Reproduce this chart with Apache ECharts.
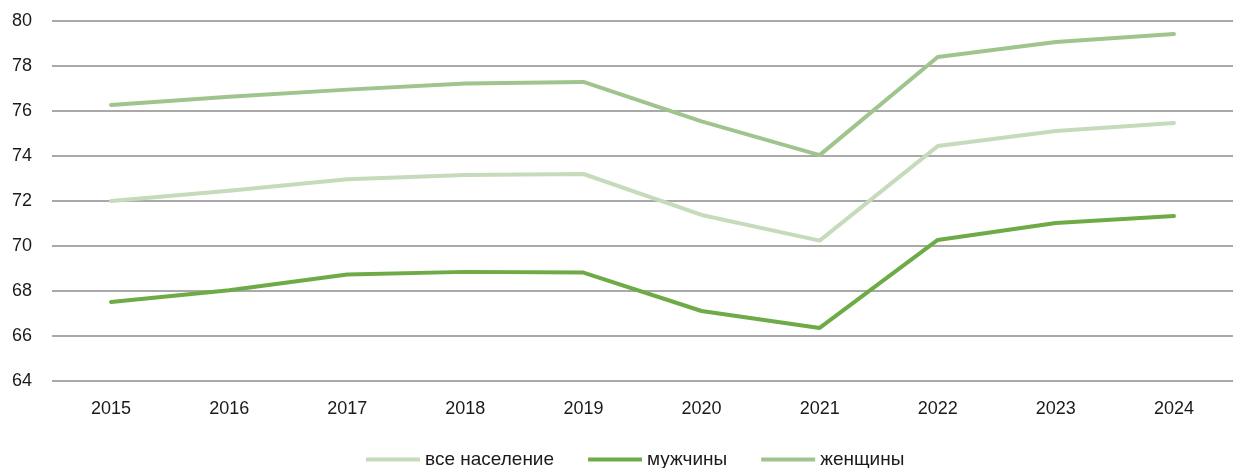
<!DOCTYPE html>
<html>
<head>
<meta charset="utf-8">
<script src="https://cdn.jsdelivr.net/npm/echarts@6/dist/echarts.min.js"></script>
<style>
html,body{margin:0;padding:0;background:#fff;}
#c{width:1233px;height:468px;}
</style>
</head>
<body>
<div id="c"></div>
<script>
const categories = ['2015','2016','2017','2018','2019','2020','2021','2022','2023','2024'];
const seriesNames = ['все население','мужчины','женщины'];
const allPop = [72.00, 72.46, 72.97, 73.16, 73.20, 71.38, 70.24, 74.44, 75.11, 75.47];
const men    = [67.51, 68.03, 68.73, 68.85, 68.82, 67.11, 66.36, 70.27, 71.02, 71.33];
const women  = [76.27, 76.63, 76.95, 77.22, 77.29, 75.54, 74.04, 78.40, 79.07, 79.42];
const yTicks = {min:64, max:80, interval:2};

const colors = ['#c5dbbb', '#6eaa45', '#9fc48e'];
const font = '"Liberation Sans", Arial, sans-serif';

const chart = echarts.init(document.getElementById('c'));
const data = [allPop, men, women];
chart.setOption({
  animation: false,
  grid: {left: 52, top: 21, width: 1194, height: 360, containLabel: false},
  xAxis: {
    type: 'category',
    data: categories,
    boundaryGap: true,
    axisLine: {show: false},
    axisTick: {show: false},
    axisLabel: {fontFamily: font, fontSize: 18, color: '#1a1a1a', margin: 19}
  },
  yAxis: {
    type: 'value',
    min: yTicks.min, max: yTicks.max, interval: yTicks.interval,
    axisLine: {show: false},
    axisTick: {show: false},
    axisLabel: {fontFamily: font, fontSize: 18, color: '#1a1a1a', margin: 20},
    splitLine: {lineStyle: {color: '#8c8c8c', width: 1.5}}
  },
  legend: {
    top: 445,
    left: 361,
    icon: 'rect',
    itemWidth: 54,
    itemHeight: 4,
    itemGap: 34,
    textStyle: {fontFamily: font, fontSize: 19, color: '#1a1a1a'},
    data: seriesNames
  },
  series: seriesNames.map((n, i) => ({
    name: n,
    type: 'line',
    data: data[i],
    showSymbol: false,
    symbol: 'none',
    color: colors[i],
    lineStyle: {width: 4, color: colors[i], cap: 'round', join: 'round'},
    z: i === 1 ? 3 : 2
  }))
});
</script>
</body>
</html>
